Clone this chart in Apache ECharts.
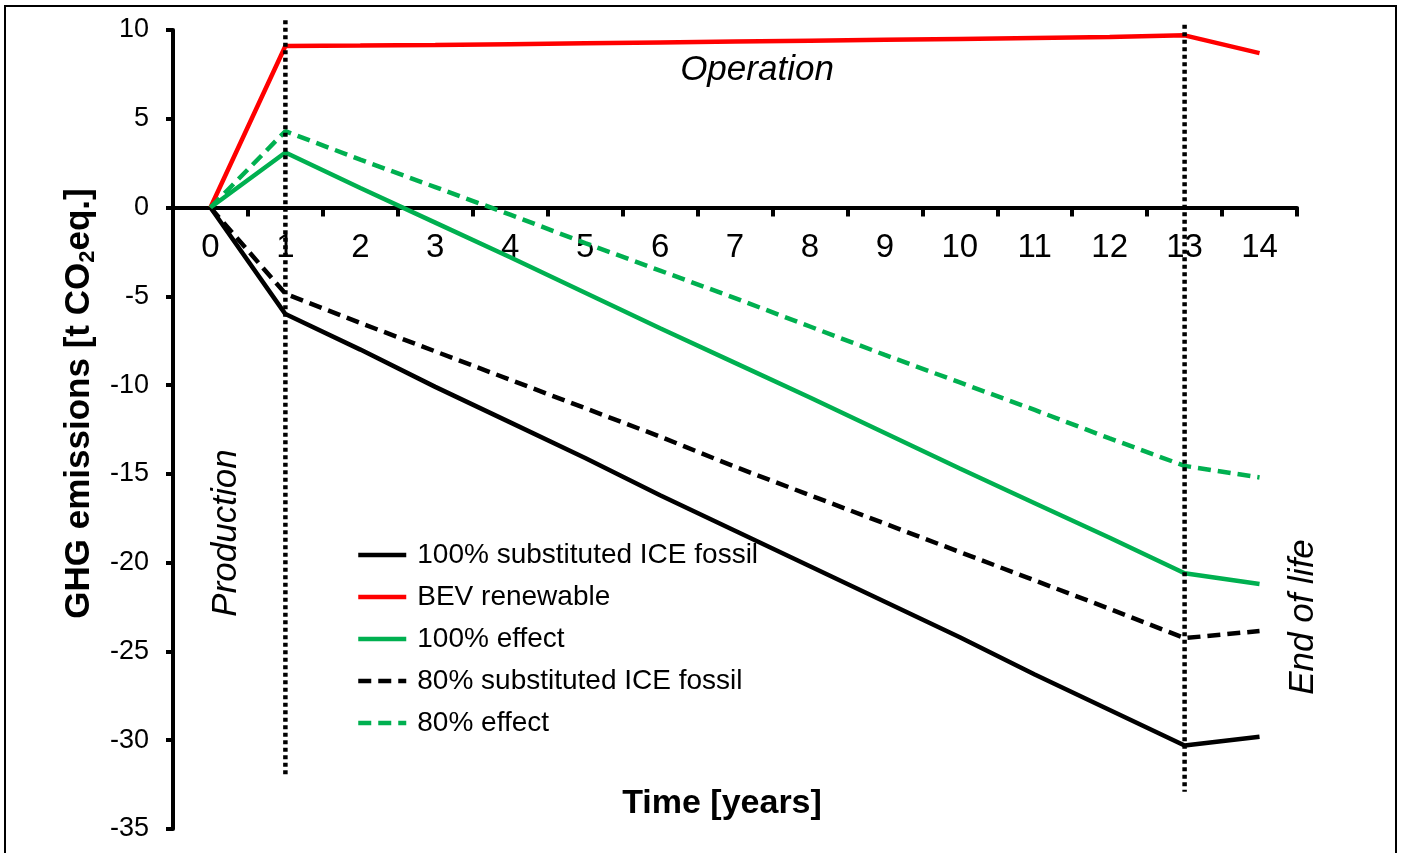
<!DOCTYPE html>
<html>
<head>
<meta charset="utf-8">
<title>GHG emissions</title>
<script src="https://cdn.jsdelivr.net/npm/echarts@6/dist/echarts.min.js"></script>
<style>
  html, body { margin: 0; padding: 0; background: #fff; }
  #chart { width: 1402px; height: 853px; }
</style>
</head>
<body>
<div id="chart"></div>
<script>
// years on the x axis
var years = ["0", "1", "2", "3", "4", "5", "6", "7", "8", "9", "10", "11", "12", "13", "14"];

// values [t CO2eq.]
var ice100 = [0, -6.0, -8.0, -10.1, -12.1, -14.1, -16.2, -18.2, -20.2, -22.2, -24.2, -26.3, -28.3, -30.3, -29.8];
var bevRenewable = [0, 9.1, 9.12, 9.15, 9.2, 9.25, 9.3, 9.35, 9.4, 9.45, 9.5, 9.55, 9.6, 9.7, 8.7];
var effect100 = [0, 3.1, 1.1, -0.85, -2.8, -4.8, -6.8, -8.75, -10.7, -12.7, -14.7, -16.65, -18.6, -20.6, -21.2];
var ice80 = [0, -4.85, -6.5, -8.1, -9.7, -11.3, -12.9, -14.6, -16.2, -17.8, -19.4, -21.0, -22.6, -24.25, -23.85];
var effect80 = [0, 4.3, 2.7, 1.15, -0.4, -2.0, -3.55, -5.1, -6.7, -8.3, -9.85, -11.4, -13.0, -14.55, -15.2];

// phase borders (dotted lines): [year, top, bottom]
var phaseLines = [["1", 10.55, -32.0], ["13", 10.3, -32.9]];

var seriesNames = [
  "100% substituted ICE fossil",
  "BEV renewable",
  "100% effect",
  "80% substituted ICE fossil",
  "80% effect"
];

var yMin = -35, yMax = 10;
var font = "Liberation Sans, Arial, sans-serif";
var green = "#00b050";

var W = 1402, H = 853;
var grid = { left: 173, right: 105, top: 30, bottom: 24 };
// the x axis sits on y = 0
var plotH = H - grid.top - grid.bottom;
var xAxisOffset = -plotH * (0 - yMin) / (yMax - yMin);

var dom = document.getElementById("chart");
var myChart = echarts.init(dom);

function lineSeries(name, data, color, dashed) {
  return {
    name: name,
    type: "line",
    data: data,
    symbol: "none",
    z: 3,
    lineStyle: {
      color: color,
      width: 4.5,
      type: dashed ? [13, 7] : "solid"
    },
    itemStyle: { color: color }
  };
}

var series = [
  lineSeries(seriesNames[0], ice100, "#000", false),
  lineSeries(seriesNames[1], bevRenewable, "#ff0000", false),
  lineSeries(seriesNames[2], effect100, green, false),
  lineSeries(seriesNames[3], ice80, "#000", true),
  lineSeries(seriesNames[4], effect80, green, true)
];

// dotted phase lines
phaseLines.forEach(function (p) {
  series.push({
    name: "phase " + p[0],
    type: "line",
    data: [[p[0], p[1]], [p[0], p[2]]],
    symbol: "none",
    clip: false,
    silent: true,
    z: 4,
    lineStyle: { color: "#000", width: 4.5, type: [4, 3.5] }
  });
});

var option = {
  animation: false,
  backgroundColor: "#fff",
  textStyle: { fontFamily: font },
  grid: {
    left: grid.left, right: grid.right, top: grid.top, bottom: grid.bottom,
    containLabel: false,
    outerBoundsMode: "none"
  },
  legend: {
    orient: "vertical",
    left: 351,
    top: 536,
    itemWidth: 48,
    itemHeight: 24,
    itemGap: 14,
    data: seriesNames,
    itemStyle: { opacity: 0 },
    lineStyle: { width: 4.5 },
    textStyle: {
      fontFamily: font,
      fontSize: 28,
      color: "#000",
      padding: [0, 0, 0, 6]
    }
  },
  xAxis: {
    type: "category",
    data: years,
    boundaryGap: true,
    position: "bottom",
    offset: xAxisOffset,
    axisLine: { onZero: false, lineStyle: { color: "#000", width: 4 } },
    axisTick: { show: true, length: 9, lineStyle: { color: "#000", width: 4 } },
    axisLabel: { fontFamily: font, fontSize: 33, color: "#000", margin: 24 },
    splitLine: { show: false }
  },
  yAxis: {
    type: "value",
    min: yMin,
    max: yMax,
    interval: 5,
    name: "{a|GHG emissions [t CO}{b|2}{a|eq.]}",
    nameLocation: "middle",
    nameGap: 66,
    nameTextStyle: {
      padding: [0, 0, 0, 52],
      rich: {
        a: { fontFamily: font, fontSize: 35, fontWeight: "bold", color: "#000", lineHeight: 40 },
        b: { fontFamily: font, fontSize: 22, fontWeight: "bold", color: "#000", lineHeight: 22, verticalAlign: "bottom" }
      }
    },
    axisLine: { show: true, lineStyle: { color: "#000", width: 4 } },
    axisTick: { show: true, length: 7, lineStyle: { color: "#000", width: 4 } },
    axisLabel: { fontFamily: font, fontSize: 27, color: "#000", margin: 24 },
    splitLine: { show: false }
  },
  graphic: [
    {
      type: "rect",
      shape: { x: 5, y: 6, width: 1391, height: 860 },
      style: { fill: "none", stroke: "#000", lineWidth: 2 },
      silent: true
    },
    {
      type: "text",
      x: 757, y: 70,
      style: { text: "Operation", font: "italic 35px " + font, fill: "#000", align: "center", verticalAlign: "middle" }
    },
    {
      type: "text",
      x: 226, y: 533, rotation: Math.PI / 2,
      style: { text: "Production", font: "italic 35px " + font, fill: "#000", align: "center", verticalAlign: "middle" }
    },
    {
      type: "text",
      x: 1303, y: 617, rotation: Math.PI / 2,
      style: { text: "End of life", font: "italic 35px " + font, fill: "#000", align: "center", verticalAlign: "middle" }
    },
    {
      type: "text",
      x: 722, y: 804,
      style: { text: "Time [years]", font: "bold 34px " + font, fill: "#000", align: "center", verticalAlign: "middle" }
    }
  ],
  series: series
};

myChart.setOption(option);
</script>
</body>
</html>
